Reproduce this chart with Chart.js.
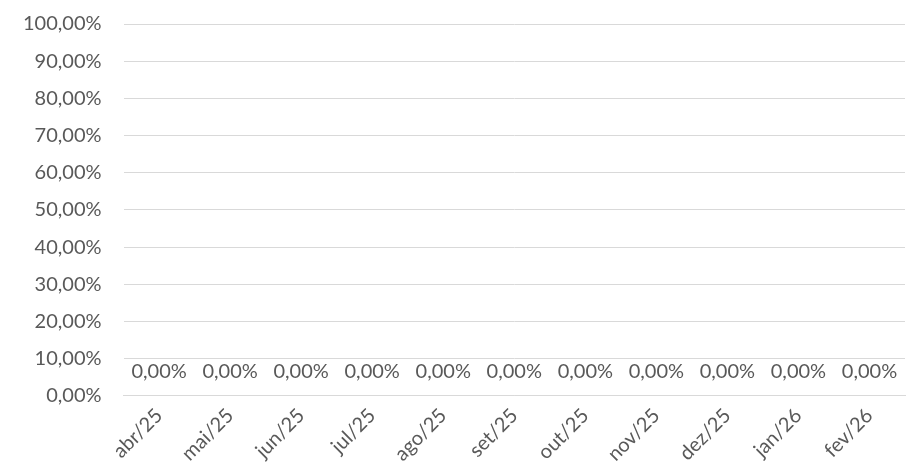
<!DOCTYPE html>
<html>
<head>
<meta charset="utf-8">
<script src="https://cdn.jsdelivr.net/npm/chart.js@4"></script>
<style>
  html, body { margin: 0; padding: 0; background: #fff; }
  #wrap { width: 907px; height: 470px; }
</style>
</head>
<body>
<div id="wrap"><canvas id="chart"></canvas></div>
<script>
const months = ['abr/25', 'mai/25', 'jun/25', 'jul/25', 'ago/25', 'set/25', 'out/25', 'nov/25', 'dez/25', 'jan/26', 'fev/26'];
const values = [0, 0, 0, 0, 0, 0, 0, 0, 0, 0, 0];
const yMax = 1;
const yStep = 0.1;

const pct = (v) => (v * 100).toFixed(2).replace('.', ',') + '%';

// labels above each bar, like excel's data labels
const valueLabels = {
  id: 'valueLabels',
  afterDatasetsDraw(chart) {
    const ctx = chart.ctx;
    const meta = chart.getDatasetMeta(0);
    ctx.save();
    ctx.font = '20px Lato';
    ctx.fillStyle = '#595959';
    ctx.textAlign = 'center';
    ctx.textBaseline = 'middle';
    meta.data.forEach((bar, i) => {
      ctx.fillText(pct(values[i]), bar.x, bar.y - 24);
    });
    ctx.restore();
  }
};

const chart = new Chart(document.getElementById('chart'), {
  type: 'bar',
  data: {
    labels: months,
    datasets: [{
      data: values,
      backgroundColor: '#4472c4'
    }]
  },
  plugins: [valueLabels],
  options: {
    responsive: true,
    maintainAspectRatio: false,
    animation: false,
    layout: { padding: { top: 24, right: 2, left: 1, bottom: 4 } },
    plugins: {
      legend: { display: false },
      tooltip: { enabled: false }
    },
    scales: {
      x: {
        grid: { display: false },
        border: { color: '#d9d9d9' },
        ticks: {
          color: '#595959',
          font: { family: 'Lato', size: 20 },
          minRotation: 45,
          maxRotation: 45,
          padding: 0
        }
      },
      y: {
        min: 0,
        max: yMax,
        grid: { color: '#d9d9d9', drawTicks: false },
        border: { display: false },
        afterFit(scale) { scale.paddingTop = 0; },
        ticks: {
          stepSize: yStep,
          color: '#595959',
          font: { family: 'Lato', size: 20 },
          padding: 22,
          callback: (v) => pct(v)
        }
      }
    }
  }
});
</script>
</body>
</html>
